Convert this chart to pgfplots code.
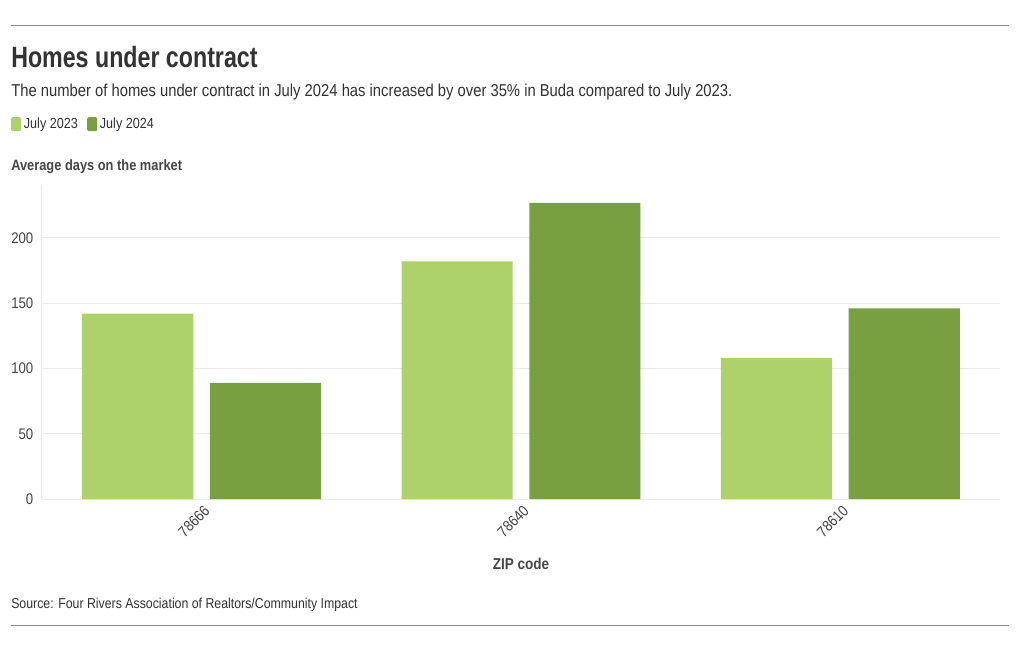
\documentclass[border=0pt]{standalone}
\usepackage{pgfplots}
\usepackage{pgfplotstable}
\usepackage{graphicx}
\pgfplotsset{compat=1.18}
\usepackage{fontspec}
\setmainfont{Liberation Sans}[FakeStretch=0.86]
\definecolor{lightg}{HTML}{ADD26B}
\definecolor{darkg}{HTML}{78A040}
\definecolor{txt}{HTML}{333333}
\definecolor{ticktxt}{HTML}{444444}
\definecolor{gridc}{HTML}{EBEBEB}
\definecolor{rulec}{HTML}{8A8A8A}
\pgfplotstableread{
x y23 y24
0 142 89
1 182 227
2 108 146
}\data
\begin{document}
\begin{tikzpicture}[x=0.75pt,y=-0.75pt]
\useasboundingbox[fill=white] (0,0) rectangle (1020,650);
\draw[rulec, line width=0.75pt] (11,25) -- (1009,25);
\draw[rulec, line width=0.75pt] (11,625) -- (1009,625);
\node[anchor=base west, inner sep=0, text=txt, font=\fontsize{22}{26}\selectfont\bfseries] at (11,67) {\scalebox{0.92}[1]{Homes under contract}};
\node[anchor=base west, inner sep=0, text=txt, font=\fontsize{12.9}{15}\selectfont] at (11,96) {The number of homes under contract in July 2024 has increased by over 35\% in Buda compared to July 2023.};
\node[anchor=base west, inner sep=0, text=txt!90!white, font=\fontsize{11.2}{14}\selectfont\bfseries] at (11,170) {Average days on the market};
\node[anchor=base, inner sep=0, text=txt!90!white, font=\fontsize{11.8}{14}\selectfont\bfseries] at (521,569) {ZIP code};
\node[anchor=base west, inner sep=0, text=txt, font=\fontsize{10.75}{14}\selectfont] at (11,608) {Source: Four Rivers Association of Realtors/Community Impact};
\begin{axis}[
  at={(31.5pt,-374.25pt)}, anchor=south west,
  scale only axis, width=718.5pt, height=235.5pt,
  xmin=-0.5, xmax=2.5, ymin=0, ymax=240.6,
  ybar, bar width=0.348,
  axis x line*=bottom, axis y line*=left,
  axis line style={draw=gridc, line width=0.75pt, -},
  ymajorgrids, grid style={draw=gridc, line width=0.75pt},
  major tick length=0,
  ytick={0,50,100,150,200},
  xtick={0,1,2}, xticklabels={78666,78640,78610},
  /pgf/number format/assume math mode=true,
  tick label style={font=\fontsize{11.5}{14}\selectfont, text=ticktxt},
  yticklabel style={xshift=-3pt},
  xticklabel style={yshift=-2.5pt, xshift=1pt, rotate=45, anchor=north east, inner sep=1pt},
  legend columns=2,
  legend style={at={(-0.0324,1.223)}, anchor=north west, draw=none, fill=none,
    inner sep=0pt, font=\fontsize{11}{14}\selectfont, text=txt,
    /tikz/every even column/.append style={column sep=5pt}},
  legend image code/.code={\fill[#1, rounded corners=1pt] (0pt,-5.25pt) rectangle (7.5pt,5.25pt);},
  legend cell align=left,
]
\addplot[fill=lightg, draw=none, bar shift=-0.2] table[x=x,y=y23]{\data};
\addlegendentry{July 2023}
\addplot[fill=darkg, draw=none, bar shift=0.2] table[x=x,y=y24]{\data};
\addlegendentry{July 2024}
\end{axis}
\end{tikzpicture}
\end{document}
